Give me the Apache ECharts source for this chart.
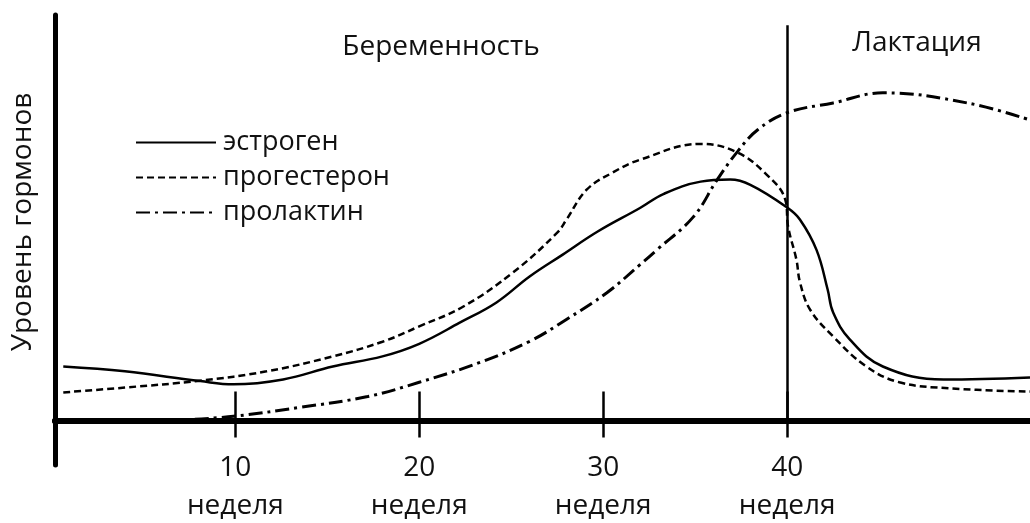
<!DOCTYPE html>
<html>
<head>
<meta charset="utf-8">
<script src="https://cdn.jsdelivr.net/npm/echarts@6/dist/echarts.min.js"></script>
<style>
  html, body { margin: 0; padding: 0; background: #fff; }
  #chart { width: 1030px; height: 523px; }
</style>
</head>
<body>
<div id="chart"></div>
<script>
// недели беременности и уровни гормонов (условные единицы)
const estrogenWeeks = [0.65, 4, 8.1, 9.9, 12.6, 15.3, 18, 20, 22.2, 24.2, 26, 27.8, 29.7, 32, 33.3, 35.3, 36.9, 38, 40, 40.7, 41.6, 42.2, 42.5, 43.4, 45.2, 48.5, 53.2];
const estrogenValues = [13.3, 12.1, 9.7, 8.9, 10.1, 13.3, 15.8, 18.9, 24.1, 29.1, 35.5, 40.9, 46.6, 52.4, 55.9, 58.9, 59.4, 58.1, 52.5, 49.5, 42, 32.3, 26.6, 20, 13.3, 10.1, 10.6];

const progesteroneWeeks = [0.65, 4, 8.1, 11.7, 15.3, 18, 20, 22.4, 25.1, 27.5, 28, 29.1, 30.5, 32, 35.3, 37.2, 38.8, 39.9, 40.05, 40.5, 40.7, 41.25, 42.5, 44.3, 46.1, 48.9, 53.2];
const progesteroneValues = [6.9, 8.1, 9.8, 12.1, 15.8, 19.4, 23.2, 28.1, 36.5, 46.3, 49.5, 56.9, 61.1, 64.3, 68.2, 66.3, 61, 54.4, 47.8, 39.7, 34, 27.3, 20.7, 13.3, 9.4, 7.9, 7.1];

const prolactinWeeks = [7.8, 9.9, 13.5, 17.2, 20, 23.3, 26, 28, 30.2, 32, 32.9, 34.9, 36.2, 37.3, 38.4, 40, 42.5, 45.2, 49.8, 53.2];
const prolactinValues = [0.3, 1.0, 3.2, 5.9, 9.4, 14.3, 19.5, 24.9, 31.5, 38.4, 42, 50.2, 59.4, 66.3, 71.7, 75.9, 78.3, 80.8, 78.3, 74.1];

const tickWeeks = [10, 20, 30, 40];
const birthWeek = 40;

const chart = echarts.init(document.getElementById('chart'));

function pairs(xs, ys) {
    return xs.map((x, i) => [x, ys[i]]);
}

const FONT = 'Open Sans';

const option = {
    animation: false,
    backgroundColor: '#fff',
    textStyle: { fontFamily: FONT, color: '#111' },
    grid: { left: 55, right: 0, top: 15, bottom: 58, outerBoundsMode: 'none' },
    legend: {
        orient: 'vertical',
        left: 130,
        top: 124,
        itemWidth: 80,
        itemHeight: 14,
        itemGap: 8,
        // прячем кружок в середине значка легенды
        itemStyle: { color: 'rgba(0,0,0,0)', borderWidth: 0, opacity: 0 },
        textStyle: { fontSize: 27, fontFamily: FONT, color: '#111', padding: [0, 0, 0, 2] },
        data: ['эстроген', 'прогестерон', 'пролактин']
    },
    xAxis: [{
        type: 'value',
        min: 0.2,
        max: 53.2,
        position: 'bottom',
        axisLine: { onZero: true, lineStyle: { color: '#000', width: 6 } },
        axisTick: { show: true, length: 17, customValues: tickWeeks, lineStyle: { color: '#000', width: 2.5 } },
        axisLabel: {
            customValues: tickWeeks,
            margin: -16,
            fontSize: 28,
            lineHeight: 38,
            color: '#111',
            fontFamily: FONT,
            formatter: function (v) { return v + '\nнеделя'; }
        },
        splitLine: { show: false }
    }, {
        type: 'value',
        min: 0.2,
        max: 53.2,
        position: 'top',
        axisLine: { onZero: true, onZeroAxisIndex: 1, lineStyle: { color: '#000', width: 6 } },
        axisTick: { show: true, length: 29, customValues: tickWeeks, lineStyle: { color: '#000', width: 2.5 } },
        axisLabel: { show: false },
        splitLine: { show: false }
    }],
    yAxis: [{
        type: 'value',
        min: -11,
        max: 100,
        axisLine: { show: true, onZero: false, lineStyle: { color: '#000', width: 5 } },
        axisTick: { show: false },
        axisLabel: { show: false },
        splitLine: { show: false }
    }, {
        type: 'value',
        min: -11,
        max: 100,
        axisLine: { show: false },
        axisTick: { show: false },
        axisLabel: { show: false },
        splitLine: { show: false }
    }],
    graphic: [{
        type: 'text',
        x: 23,
        y: 222,
        rotation: Math.PI / 2,
        style: { text: 'Уровень гормонов', fontSize: 28, fontFamily: FONT, fill: '#111', align: 'center', verticalAlign: 'middle' }
    }, {
        type: 'text',
        x: 441,
        y: 47,
        style: { text: 'Беременность', fontSize: 28, fontFamily: FONT, fill: '#111', align: 'center', verticalAlign: 'middle' }
    }, {
        type: 'text',
        x: 917,
        y: 43,
        style: { text: 'Лактация', fontSize: 28, fontFamily: FONT, fill: '#111', align: 'center', verticalAlign: 'middle' }
    }],
    series: [{
        name: 'эстроген',
        type: 'line',
        smooth: 0.4,
        symbol: 'none',
        data: pairs(estrogenWeeks, estrogenValues),
        lineStyle: { color: '#000', width: 2.5, type: 'solid' },
        itemStyle: { color: '#000' },
        markLine: {
            silent: true,
            symbol: 'none',
            label: { show: false },
            lineStyle: { color: '#000', width: 2.5, type: 'solid' },
            data: [[{ coord: [birthWeek, 0] }, { coord: [birthWeek, 97.5] }]]
        }
    }, {
        name: 'прогестерон',
        type: 'line',
        smooth: 0.4,
        symbol: 'none',
        data: pairs(progesteroneWeeks, progesteroneValues),
        lineStyle: { color: '#000', width: 2.5, type: [7, 4] },
        itemStyle: { color: '#000' }
    }, {
        name: 'пролактин',
        type: 'line',
        smooth: 0.4,
        symbol: 'none',
        data: pairs(prolactinWeeks, prolactinValues),
        lineStyle: { color: '#000', width: 3, type: [14, 5, 3, 5] },
        itemStyle: { color: '#000' }
    }]
};

chart.setOption(option);
</script>
</body>
</html>
